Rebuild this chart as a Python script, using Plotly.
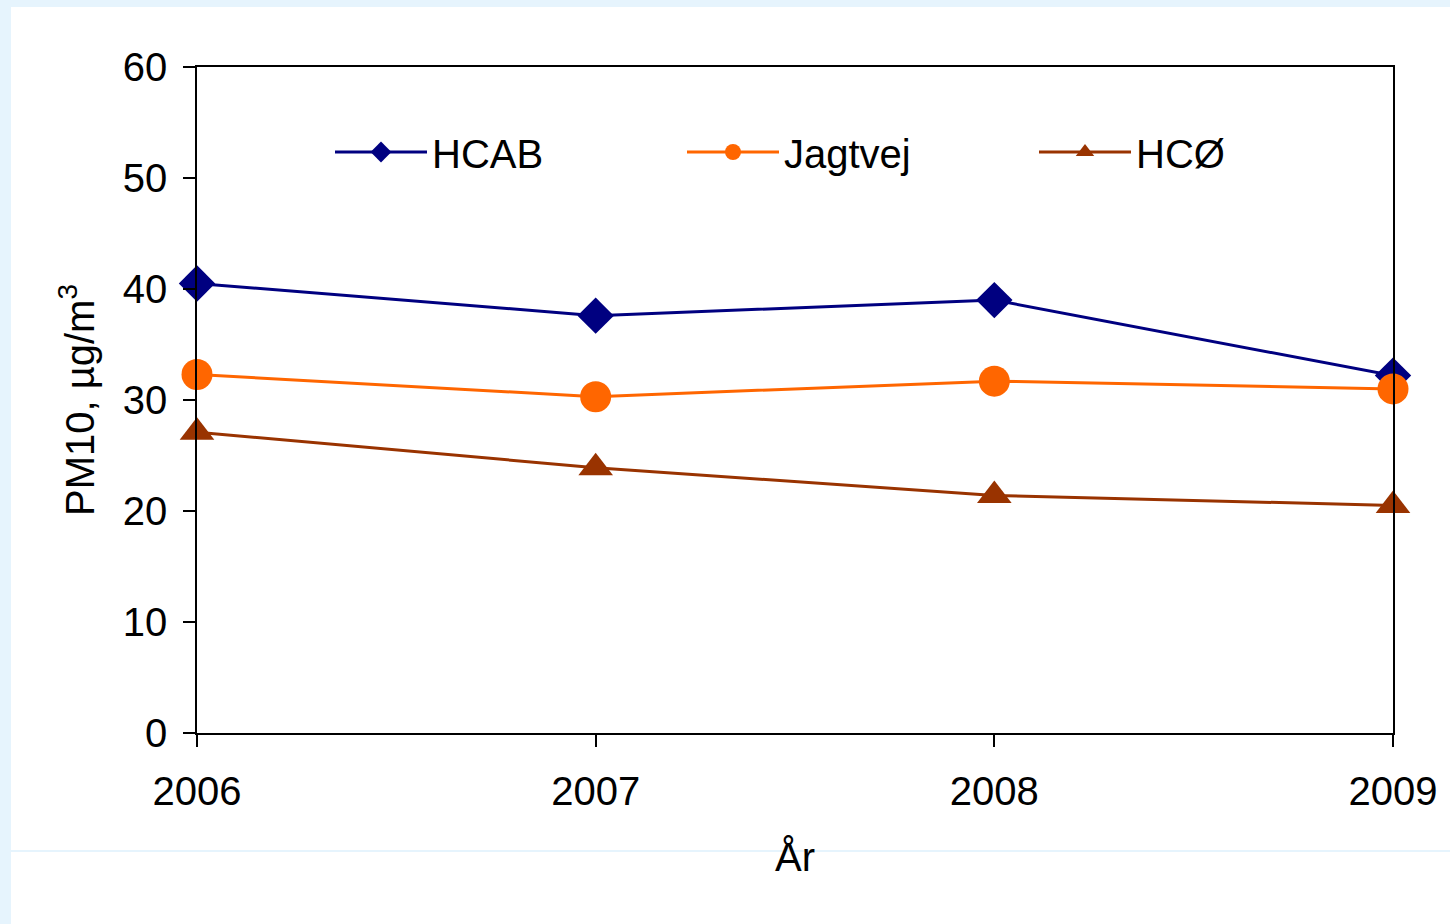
import plotly.graph_objects as go

years = [2006, 2007, 2008, 2009]
hcab = [40.5, 37.6, 39.0, 32.2]
jagtvej = [32.3, 30.3, 31.7, 31.0]
hco = [27.1, 23.9, 21.4, 20.5]

FONT = "Arial, Liberation Sans, sans-serif"
FS = 40

fig = go.Figure()
fig.add_trace(go.Scatter(x=years, y=hcab, name="HCAB", mode="lines+markers",
                         line=dict(color="#000080", width=3),
                         marker=dict(symbol="diamond", size=28, color="#000080"),
                         cliponaxis=False))
fig.add_trace(go.Scatter(x=years, y=jagtvej, name="Jagtvej", mode="lines+markers",
                         line=dict(color="#FF6600", width=3),
                         marker=dict(symbol="circle", size=31, color="#FF6600"),
                         cliponaxis=False))
fig.add_trace(go.Scatter(x=years, y=hco, name="HCØ", mode="lines+markers",
                         line=dict(color="#993300", width=3),
                         marker=dict(symbol="triangle-up", size=30, color="#993300"),
                         cliponaxis=False))

W, H = 1450, 924
L, R, T, B = 197, 57, 67, 191
pw, ph = W - L - R, H - T - B

def px(x):
    return (x - L) / pw

def py(y):
    return (H - B - y) / ph

shapes = [
    dict(type="rect", xref="paper", yref="paper", layer="below",
         x0=px(11), x1=px(W + 5), y0=py(850), y1=py(7),
         fillcolor="white", line=dict(width=0)),
    dict(type="rect", xref="paper", yref="paper", layer="below",
         x0=px(11), x1=px(W + 5), y0=py(H + 5), y1=py(852),
         fillcolor="white", line=dict(width=0)),
]

fig.update_layout(
    width=W, height=H,
    margin=dict(l=L, r=R, t=T, b=B),
    paper_bgcolor="#E6F4FD",
    plot_bgcolor="white",
    font=dict(family=FONT, size=FS, color="black"),
    shapes=shapes,
    showlegend=True,
    legend=dict(orientation="h", x=px(330), y=py(152), yanchor="middle", xanchor="left",
                bgcolor="rgba(0,0,0,0)", entrywidth=245, entrywidthmode="pixels",
                font=dict(size=FS, family=FONT), itemwidth=92),
    xaxis=dict(range=[2006, 2009], tickvals=years, ticktext=[str(y) for y in years],
               showgrid=False, zeroline=False, showline=True, linecolor="black", linewidth=1.5,
               mirror=True, ticks="outside", ticklen=12, tickcolor="black", tickwidth=1.5,
               ticklabelstandoff=10,
               title=dict(text="År", font=dict(size=FS), standoff=31)),
    yaxis=dict(range=[0, 60], tickvals=[0, 10, 20, 30, 40, 50, 60],
               showgrid=False, zeroline=False, showline=True, linecolor="black", linewidth=1.5,
               mirror=True, ticks="outside", ticklen=12, tickcolor="black", tickwidth=1.5,
               ticklabelstandoff=8,
               title=dict(text="PM10, µg/m<sup>3</sup>", font=dict(size=FS), standoff=16)),
)

fig.write_html("out.html")
